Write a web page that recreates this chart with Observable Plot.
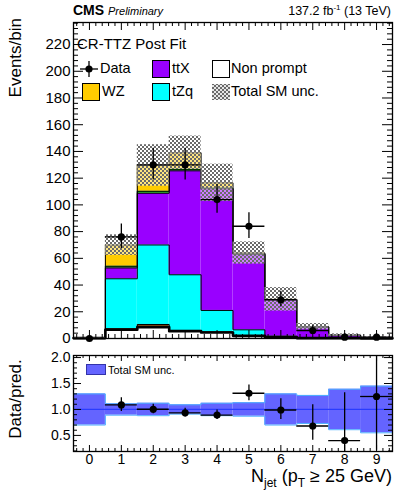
<!DOCTYPE html>
<html>
<head>
<meta charset="utf-8">
<script src="https://cdn.jsdelivr.net/npm/d3@7"></script>
<script src="https://cdn.jsdelivr.net/npm/@observablehq/plot@0.6"></script>
<style>
  body { margin: 0; background: #fff; font-family: "Liberation Sans", Arial, sans-serif; }
  #root { position: relative; width: 394px; height: 493px; overflow: hidden; background: #fff; }
  #root svg { position: absolute; left: 0; }
  .abs { position: absolute; white-space: nowrap; line-height: 1; color: #000; }
  .sw { position: absolute; box-sizing: border-box; border: 1px solid #000; }
</style>
</head>
<body>
<div id="root"></div>
<script>
// ---------------- data ----------------
const nJet = [0, 1, 2, 3, 4, 5, 6, 7, 8, 9];
const xTickLabels = ["0", "1", "2", "3", "4", "5", "6", "7", "8", "9"];
// stacked predictions, bottom to top
const nonPrompt = [0.3, 6.5, 8.5, 5.5, 4.5, 2.0, 1.0, 0.3, 0.2, 0.1];
const otherBkg  = [0.0, 0.8, 2.0, 0.5, 0.5, 0.2, 0.1, 0.0, 0.0, 0.0];
const tZq       = [0.1, 37.4, 59.5, 41.7, 16.0, 4.3, 0.6, 0.1, 0.0, 0.0];
const ttX       = [0.1, 8.1, 38.7, 77.8, 91.0, 56.5, 27.3, 8.2, 2.2, 0.7];
const zzBkg     = [0.0, 1.3, 1.5, 1.2, 0.6, 0.2, 0.1, 0.0, 0.0, 0.0];
const wz        = [0.0, 15.8, 19.3, 12.3, 3.9, 0.8, 0.2, 0.2, 0.1, 0.0];
// relative total SM uncertainty
const relUnc    = [0.30, 0.11, 0.12, 0.09, 0.12, 0.13, 0.30, 0.27, 0.39, 0.45];
// observed data with asymmetric (Poisson) errors
const dataCounts = [0, 76, 130, 130, 104, 84, 29, 6, 1, 1];
const dataErrLo  = [0, 8.7, 11.4, 11.4, 10.2, 9.1, 5.4, 2.4, 0.83, 0.83];
const dataErrHi  = [1.84, 9.7, 12.4, 12.4, 11.2, 10.2, 6.4, 3.6, 2.3, 2.3];
const yTicksMain = [0, 20, 40, 60, 80, 100, 120, 140, 160, 180, 200, 220];
const yTicksRatio = [0.5, 1.0, 1.5, 2.0];

// ---------------- layout ----------------
const W = 394, ML = 73, MR = 2;
const mainH = 345, mainMT = 22, mainMB = 7;
const ratioTop = 345, ratioH = 148, ratioMT = 10, ratioMB = 42;
const plotW = W - ML - MR;
const mainPH = mainH - mainMT - mainMB;
const ratioPH = ratioH - ratioMT - ratioMB;
const yMaxMain = 236.5;
const ratioDomain = [0.19, 2.04];
const FONT = "'Liberation Sans', Arial, sans-serif";

const layers = [
  {name: "Non prompt", values: nonPrompt, fill: "#ffffff", sw: 2.6},
  {name: "Other", values: otherBkg, fill: "#9c5a1a", sw: 1},
  {name: "tZq", values: tZq, fill: "#00ffff", sw: 1},
  {name: "ttX", values: ttX, fill: "#9900ff", sw: 1},
  {name: "ZZ", values: zzBkg, fill: "#00c000", sw: 1},
  {name: "WZ", values: wz, fill: "#ffcc00", sw: 1}
];

const cum = nJet.map(() => 0);
const layerRects = [];
const layerLines = [];
layers.forEach(L => {
  const rects = nJet.map((n, i) => {
    const r = {x1: n - 0.5, x2: n + 0.5, y1: cum[i], y2: cum[i] + L.values[i]};
    cum[i] += L.values[i];
    return r;
  });
  const pts = nJet.map((n, i) => ({x: n - 0.5, y: cum[i]}));
  pts.push({x: nJet[nJet.length - 1] + 0.5, y: cum[cum.length - 1]});
  layerRects.push({L, rects});
  layerLines.push({L, pts});
});
const total = cum.slice();
const uncRects = nJet.map((n, i) => ({x1: n - 0.5, x2: n + 0.5, y1: total[i] * (1 - relUnc[i]), y2: total[i] * (1 + relUnc[i])}));
const dataRows = nJet.map((n, i) => ({n, v: dataCounts[i], lo: dataErrLo[i], hi: dataErrHi[i]}));

const xMajor = nJet.slice();
const xMinor = d3.range(-0.4, 9.5, 0.2).map(v => +v.toFixed(2)).filter(v => Math.abs(v - Math.round(v)) > 1e-6);
const yMinorMain = d3.range(4, 237, 4).filter(v => v % 20 !== 0);
const yMinorRatio = d3.range(0.2, 2.041, 0.1).map(v => +v.toFixed(2)).filter(v => Math.abs(v * 2 - Math.round(v * 2)) > 1e-6);

function ticksY(major, minor, pw, lenMaj, lenMin) {
  return [
    Plot.tickY(major, {y: d => d, insetRight: pw - lenMaj, stroke: "black"}),
    Plot.tickY(major, {y: d => d, insetLeft: pw - lenMaj, stroke: "black"}),
    Plot.tickY(minor, {y: d => d, insetRight: pw - lenMin, stroke: "black"}),
    Plot.tickY(minor, {y: d => d, insetLeft: pw - lenMin, stroke: "black"})
  ];
}
function ticksX(major, minor, ph, lenMaj, lenMin) {
  return [
    Plot.tickX(major, {x: d => d, insetTop: ph - lenMaj, stroke: "black"}),
    Plot.tickX(major, {x: d => d, insetBottom: ph - lenMaj, stroke: "black"}),
    Plot.tickX(minor, {x: d => d, insetTop: ph - lenMin, stroke: "black"}),
    Plot.tickX(minor, {x: d => d, insetBottom: ph - lenMin, stroke: "black"})
  ];
}

// ---------------- main panel ----------------
const mainPlot = Plot.plot({
  width: W, height: mainH,
  marginLeft: ML, marginRight: MR, marginTop: mainMT, marginBottom: mainMB,
  style: {fontFamily: FONT, fontSize: "15px", color: "black", background: "transparent"},
  x: {domain: [-0.5, 9.5], axis: null},
  y: {domain: [0, yMaxMain], ticks: yTicksMain, tickSize: 0, tickPadding: 3, label: null, tickFormat: d => String(d)},
  marks: [
    ...layerRects.map(({L, rects}) => Plot.rect(rects, {x1: "x1", x2: "x2", y1: "y1", y2: "y2", fill: L.fill})),
    ...layerLines.map(({L, pts}) => Plot.line(pts, {x: "x", y: "y", curve: "step-after", stroke: "black", strokeWidth: L.sw})),
    Plot.rect(uncRects, {x1: "x1", x2: "x2", y1: "y1", y2: "y2", fill: "url(#hatchMain)"}),
    Plot.ruleX(dataRows, {x: "n", y1: d => Math.max(0, d.v - d.lo), y2: d => d.v + d.hi, stroke: "black", strokeWidth: 1.3}),
    Plot.ruleY(dataRows, {y: "v", x1: d => d.n - 0.5, x2: d => d.n + 0.5, stroke: "black", strokeWidth: 1.3}),
    Plot.dot(dataRows, {x: "n", y: "v", r: 3.6, fill: "black", stroke: "none"}),
    ...ticksY(yTicksMain, yMinorMain, plotW, 10, 5),
    ...ticksX(xMajor, xMinor, mainPH, 8, 4),
    Plot.frame({stroke: "black", strokeWidth: 1.3})
  ]
});
mainPlot.style.top = "0px";
{
  const defs = d3.select(mainPlot).insert("defs", ":first-child");
  const p = defs.append("pattern").attr("id", "hatchMain").attr("patternUnits", "userSpaceOnUse").attr("width", 4).attr("height", 4);
  p.append("rect").attr("width", 2).attr("height", 2).attr("fill", "#6a6a6a");
  p.append("rect").attr("x", 2).attr("y", 2).attr("width", 2).attr("height", 2).attr("fill", "#6a6a6a");
  p.append("rect").attr("x", 2).attr("y", 0).attr("width", 2).attr("height", 2).attr("fill", "#ffffff").attr("fill-opacity", 0.5);
  p.append("rect").attr("x", 0).attr("y", 2).attr("width", 2).attr("height", 2).attr("fill", "#ffffff").attr("fill-opacity", 0.5);
}

// ---------------- ratio panel ----------------
const clampR = v => Math.max(ratioDomain[0], Math.min(ratioDomain[1], v));
const ratioBand = nJet.map((n, i) => ({x1: n - 0.5, x2: n + 0.5, y1: 1 - relUnc[i], y2: 1 + relUnc[i]}));
const bandUp = nJet.map((n, i) => ({x: n - 0.5, y: 1 + relUnc[i]})).concat([{x: 9.5, y: 1 + relUnc[9]}]);
const bandDn = nJet.map((n, i) => ({x: n - 0.5, y: 1 - relUnc[i]})).concat([{x: 9.5, y: 1 - relUnc[9]}]);
const ratioRows = nJet.map((n, i) => ({
  n, r: dataCounts[i] / total[i],
  lo: (dataCounts[i] - dataErrLo[i]) / total[i],
  hi: (dataCounts[i] + dataErrHi[i]) / total[i],
  d: dataCounts[i]
})).filter(d => d.d > 0);

const ratioPlot = Plot.plot({
  width: W, height: ratioH,
  marginLeft: ML, marginRight: MR, marginTop: ratioMT, marginBottom: ratioMB,
  style: {fontFamily: FONT, fontSize: "14px", color: "black", background: "transparent"},
  x: {domain: [-0.5, 9.5], ticks: xMajor, tickSize: 0, tickPadding: 3, label: null, tickFormat: (d, i) => xTickLabels[nJet.indexOf(d)]},
  y: {domain: ratioDomain, ticks: yTicksRatio, tickSize: 0, tickPadding: 3, label: null, tickFormat: d3.format(".1f")},
  marks: [
    Plot.rect(ratioBand, {x1: "x1", x2: "x2", y1: "y1", y2: "y2", fill: "#6464ff"}),
    Plot.line(bandUp, {x: "x", y: "y", curve: "step-after", stroke: "#4fb0ff", strokeWidth: 1}),
    Plot.line(bandDn, {x: "x", y: "y", curve: "step-after", stroke: "#4fb0ff", strokeWidth: 1}),
    Plot.ruleY([1], {stroke: "#2a3cff", strokeWidth: 1.3}),
    Plot.ruleX(ratioRows, {x: "n", y1: d => clampR(d.lo), y2: d => clampR(d.hi), stroke: "black", strokeWidth: 1.3}),
    Plot.ruleY(ratioRows, {y: "r", x1: d => d.n - 0.5, x2: d => d.n + 0.5, stroke: "black", strokeWidth: 1.3}),
    Plot.dot(ratioRows, {x: "n", y: "r", r: 3.6, fill: "black", stroke: "none"}),
    ...ticksY(yTicksRatio, yMinorRatio, plotW, 8, 4),
    ...ticksX(xMajor, xMinor, ratioPH, 6, 3),
    Plot.frame({stroke: "black", strokeWidth: 1.3})
  ]
});
ratioPlot.style.top = ratioTop + "px";

const root = document.getElementById("root");
root.appendChild(mainPlot);
root.appendChild(ratioPlot);

// ---------------- text and legends ----------------
function addText(html, left, baseline, size, extra = "") {
  const d = document.createElement("div");
  d.className = "abs";
  d.innerHTML = html;
  d.style.cssText += `left:${left}px;top:${baseline - 0.8465 * size}px;font-size:${size}px;${extra}`;
  root.appendChild(d);
  return d;
}
function addTextRight(html, right, baseline, size) {
  const d = document.createElement("div");
  d.className = "abs";
  d.innerHTML = html;
  d.style.cssText += `right:${right}px;top:${baseline - 0.8465 * size}px;font-size:${size}px;`;
  root.appendChild(d);
  return d;
}
function addSwatch(left, top, w, h, fill) {
  const s = document.createElement("div");
  s.className = "sw";
  s.style.cssText += `left:${left}px;top:${top}px;width:${w}px;height:${h}px;background:${fill};`;
  root.appendChild(s);
  return s;
}

// header
addText('<b style="font-size:14px">CMS</b> <i style="font-size:11px">Preliminary</i>', 73, 15, 14);
addTextRight('137.2 fb<span style="font-size:8px;position:relative;top:-5px">-1</span> (13 TeV)', 3, 16, 12.5);

// axis titles
{
  const d = document.createElement("div");
  d.className = "abs";
  d.textContent = "Events/bin";
  d.style.cssText += "left:0;top:0;width:200px;text-align:right;font-size:17px;line-height:20px;transform-origin:0 0;transform:translate(6px,218px) rotate(-90deg);";
  root.appendChild(d);
  const r = document.createElement("div");
  r.className = "abs";
  r.textContent = "Data/pred.";
  r.style.cssText += "left:0;top:0;width:200px;text-align:center;font-size:17px;line-height:20px;transform-origin:0 0;transform:translate(6px,499px) rotate(-90deg);";
  root.appendChild(r);
}
addTextRight('N<span style="font-size:12px;position:relative;top:5px">jet</span> (p<span style="font-size:12px;position:relative;top:5px">T</span> \u2265 25 GeV)', 2, 482, 18);

// main legend
addText("CR-TTZ Post Fit", 77, 49, 15);
const row1 = 68.5, row2 = 91.5, LF = 14.5;
{
  const s = document.createElementNS("http://www.w3.org/2000/svg", "svg");
  s.setAttribute("width", 22); s.setAttribute("height", 20);
  s.style.cssText = `position:absolute;left:78px;top:${row1 - 10}px;`;
  s.innerHTML = '<line x1="2" y1="10" x2="20" y2="10" stroke="black" stroke-width="1.3"/><line x1="11" y1="2" x2="11" y2="18" stroke="black" stroke-width="1.3"/><circle cx="11" cy="10" r="3.6" fill="black"/>';
  root.appendChild(s);
}
addText("Data", 100, row1 + 5.2, LF);
addSwatch(152, row1 - 9, 18, 18, "#9900ff");
addText("ttX", 172, row1 + 5.2, LF);
addSwatch(212, row1 - 9, 18, 18, "#ffffff");
addText("Non prompt", 231, row1 + 5.2, LF);
addSwatch(82, row2 - 9, 18, 18, "#ffcc00");
addText("WZ", 102, row2 + 5.2, LF);
addSwatch(152, row2 - 9, 18, 18, "#00ffff");
addText("tZq", 172, row2 + 5.2, LF);
{
  const s = document.createElementNS("http://www.w3.org/2000/svg", "svg");
  s.setAttribute("width", 18); s.setAttribute("height", 18);
  s.style.cssText = `position:absolute;left:212px;top:${row2 - 9}px;`;
  s.innerHTML = '<defs><pattern id="hatchLeg" patternUnits="userSpaceOnUse" width="4" height="4"><rect width="2" height="2" fill="#6a6a6a"/><rect x="2" y="2" width="2" height="2" fill="#6a6a6a"/><rect x="2" y="0" width="2" height="2" fill="#e6e6e6"/><rect x="0" y="2" width="2" height="2" fill="#e6e6e6"/></pattern></defs><rect x="0" y="1" width="18" height="16" fill="url(#hatchLeg)"/>';
  root.appendChild(s);
}
addText("Total SM unc.", 231, row2 + 5.2, LF);

// ratio legend
addSwatch(86, 364, 20, 11, "#6464ff").style.borderColor = "#3333aa";
addText("Total SM unc.", 108, 374, 11);
</script>
</body>
</html>
